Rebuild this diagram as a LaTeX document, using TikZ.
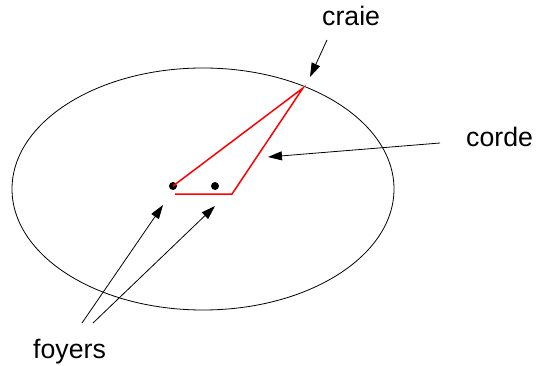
\documentclass[tikz,border=0pt]{standalone}
\usepackage{fontspec}
\setmainfont{Liberation Sans}
\usetikzlibrary{arrows.meta, shapes.geometric}

\begin{document}
\begin{tikzpicture}[x=1pt, y=-1pt,
  lbl/.style={font=\fontsize{26.7}{32}\selectfont, inner sep=0pt},
  focus/.style={circle, fill=black, inner sep=0pt, minimum size=8pt},
  arr/.style={-{Triangle[length=14pt, width=9pt]}, line width=0.8pt},
  cord/.style={red, line width=1.5pt}
]
\useasboundingbox (0,0) rectangle (540,366);

% ================= Ellipse and foci =================
\node[ellipse, draw, line width=0.8pt, inner sep=0pt,
      minimum width=382pt, minimum height=242pt] (E) at (203,189) {};
\node[focus] (F1) at (173,186) {};
\node[focus] (F2) at (215,186) {};

% ================= Labels =================
\node[lbl, anchor=base west] (craie) at (322,26) {craie};
\node[lbl, anchor=base west] (corde) at (466,147) {corde};
\node[lbl, anchor=base west] (foyers) at (33,358) {foyers};

% ================= Cord =================
\coordinate (chalk) at (303,88);
\coordinate (knot) at (232,194);
\coordinate (tail) at (175,194);
\draw[cord] (tail) -- (knot) -- (chalk) -- (F1.center);

% ================= Arrows =================
\coordinate (craieA) at (327,40);
\coordinate (craieB) at (310,77);
\draw[arr] (craieA) -- (craieB);

\coordinate (cordeA) at (440,143);
\coordinate (cordeB) at (268,157);
\draw[arr] (cordeA) -- (cordeB);

\coordinate (foyA) at (82,323);
\coordinate (foyB) at (93,323);
\coordinate (foyTipA) at (163,205);
\coordinate (foyTipB) at (215,206);
\draw[arr] (foyA) -- (foyTipA);
\draw[arr] (foyB) -- (foyTipB);

\end{tikzpicture}
\end{document}
